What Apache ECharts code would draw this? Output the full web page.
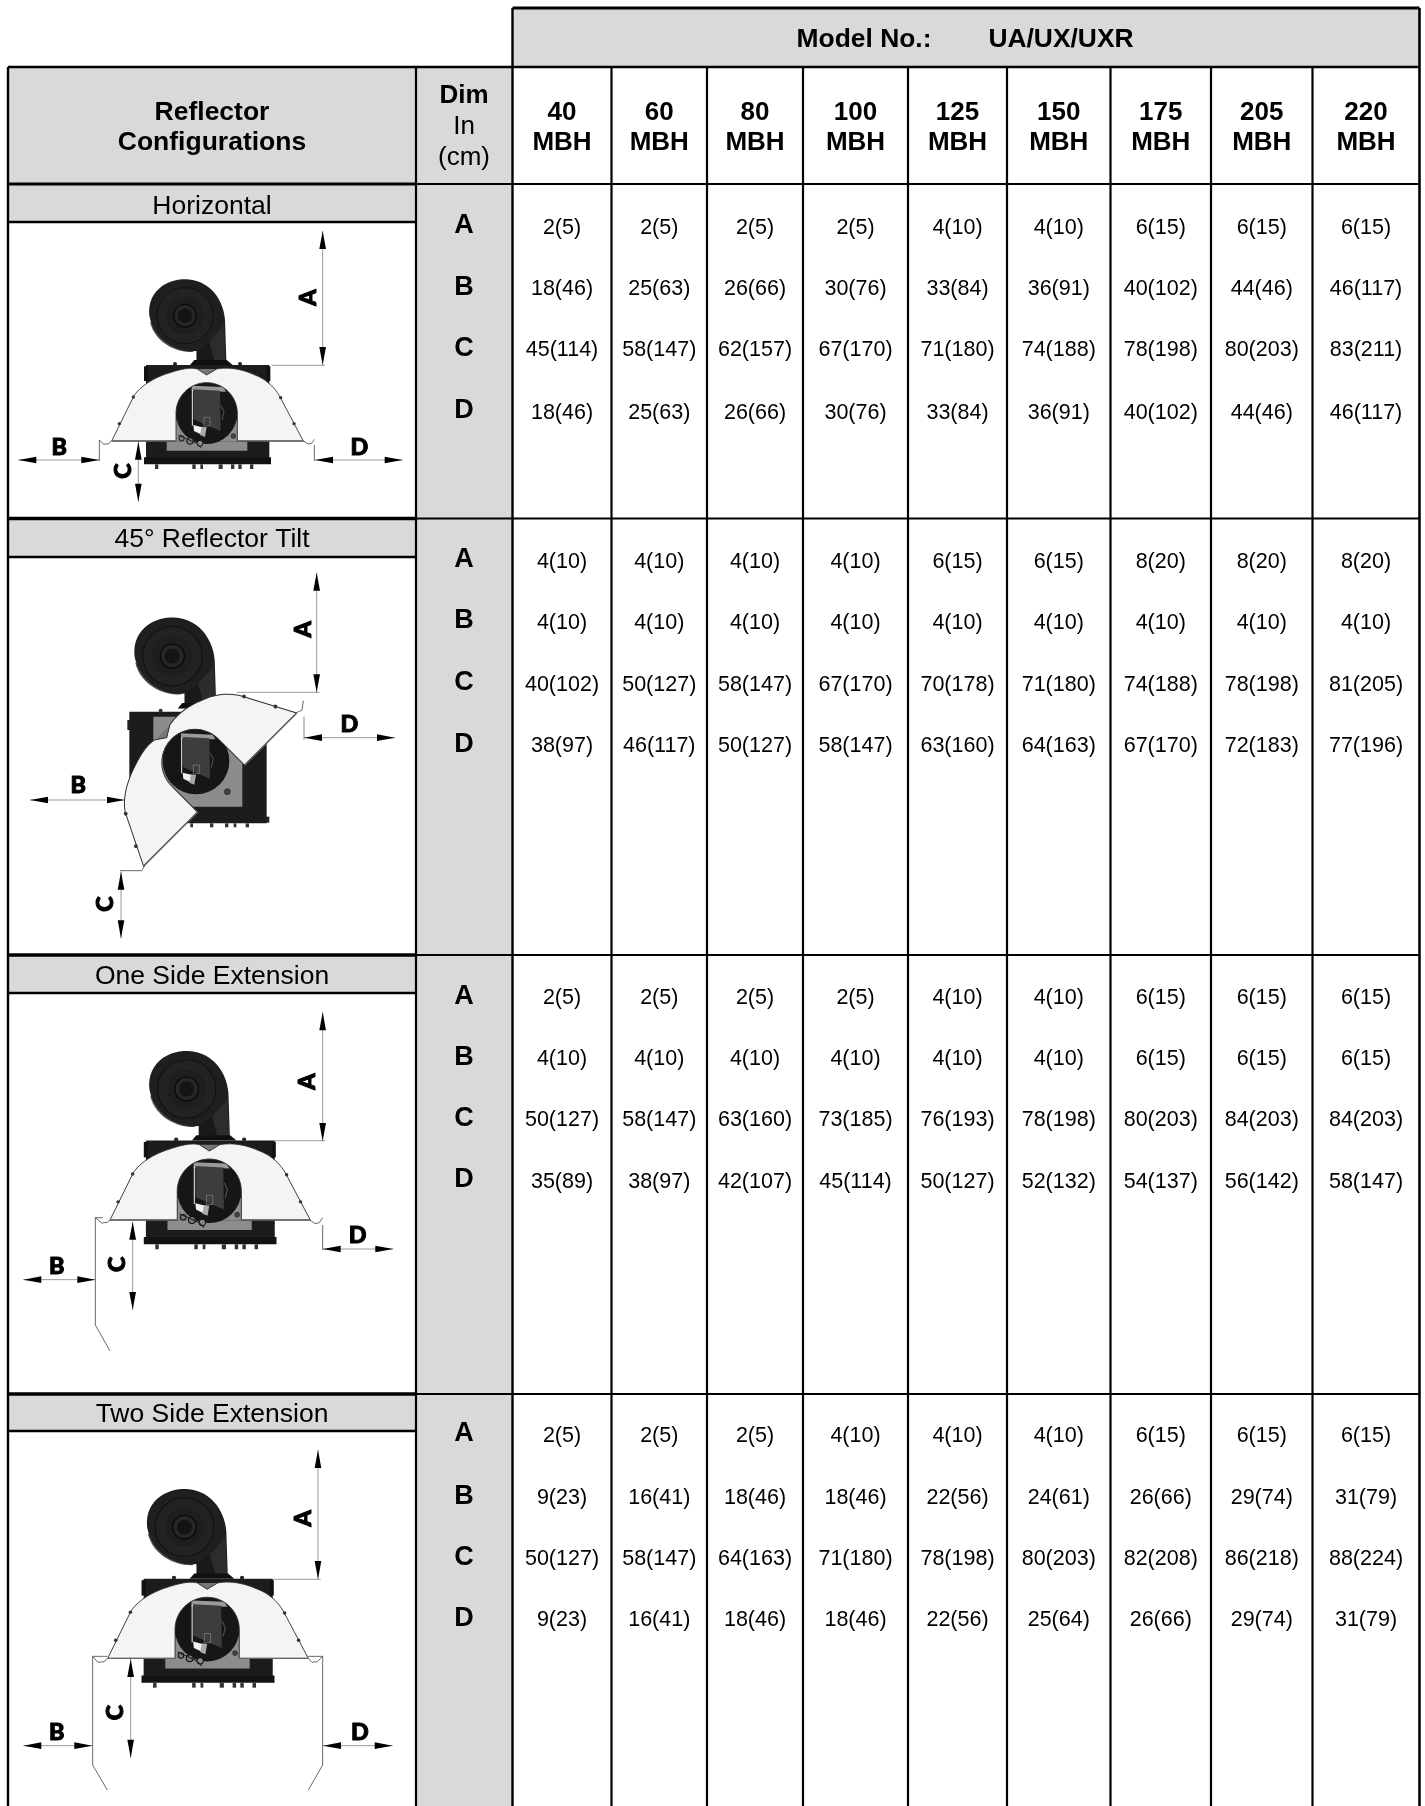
<!DOCTYPE html>
<html><head><meta charset="utf-8">
<style>html,body{margin:0;padding:0;background:#fff;overflow:hidden}#c{width:1425px;height:1806px}</style>
<script src="https://cdn.jsdelivr.net/npm/echarts@6/dist/echarts.min.js"></script>
</head><body><div id="c"></div>
<script>
// ---- content ----
const modelLabel = 'Model No.:';
const modelName = 'UA/UX/UXR';
const capacities = ['40','60','80','100','125','150','175','205','220'];
const dimLetters = ['A','B','C','D'];
const configurations = ['Horizontal','45° Reflector Tilt','One Side Extension','Two Side Extension'];

const horizontalA = ['2(5)','2(5)','2(5)','2(5)','4(10)','4(10)','6(15)','6(15)','6(15)'];
const horizontalB = ['18(46)','25(63)','26(66)','30(76)','33(84)','36(91)','40(102)','44(46)','46(117)'];
const horizontalC = ['45(114)','58(147)','62(157)','67(170)','71(180)','74(188)','78(198)','80(203)','83(211)'];
const horizontalD = ['18(46)','25(63)','26(66)','30(76)','33(84)','36(91)','40(102)','44(46)','46(117)'];

const tiltA = ['4(10)','4(10)','4(10)','4(10)','6(15)','6(15)','8(20)','8(20)','8(20)'];
const tiltB = ['4(10)','4(10)','4(10)','4(10)','4(10)','4(10)','4(10)','4(10)','4(10)'];
const tiltC = ['40(102)','50(127)','58(147)','67(170)','70(178)','71(180)','74(188)','78(198)','81(205)'];
const tiltD = ['38(97)','46(117)','50(127)','58(147)','63(160)','64(163)','67(170)','72(183)','77(196)'];

const oneSideA = ['2(5)','2(5)','2(5)','2(5)','4(10)','4(10)','6(15)','6(15)','6(15)'];
const oneSideB = ['4(10)','4(10)','4(10)','4(10)','4(10)','4(10)','6(15)','6(15)','6(15)'];
const oneSideC = ['50(127)','58(147)','63(160)','73(185)','76(193)','78(198)','80(203)','84(203)','84(203)'];
const oneSideD = ['35(89)','38(97)','42(107)','45(114)','50(127)','52(132)','54(137)','56(142)','58(147)'];

const twoSideA = ['2(5)','2(5)','2(5)','4(10)','4(10)','4(10)','6(15)','6(15)','6(15)'];
const twoSideB = ['9(23)','16(41)','18(46)','18(46)','22(56)','24(61)','26(66)','29(74)','31(79)'];
const twoSideC = ['50(127)','58(147)','64(163)','71(180)','78(198)','80(203)','82(208)','86(218)','88(224)'];
const twoSideD = ['9(23)','16(41)','18(46)','18(46)','22(56)','25(64)','26(66)','29(74)','31(79)'];

const sections = [
  [horizontalA,horizontalB,horizontalC,horizontalD],
  [tiltA,tiltB,tiltC,tiltD],
  [oneSideA,oneSideB,oneSideC,oneSideD],
  [twoSideA,twoSideB,twoSideC,twoSideD]
];

// ---- table layout (page pixels, used as axis values) ----
const W = 1425, H = 1806;
const colEdges = [512.5,611.5,707,803,908,1007,1110.5,1211,1312.5,1419.5];
const xLeft = 8, xDim = 416, xFirst = 512.5, xRight = 1419.5;
const yTop = 8, yHead = 67, yBody = 184;
const secTop = [184,518.5,955,1394];
const secBand = [222,557,993,1431];
const secTitleY = [207,540,977,1415];
const secRowY = [[228,289.5,350.5,413],[562,623,685,746.5],[998.5,1059.5,1120.5,1182],[1436,1498.5,1559.5,1620.5]];
const GREY = '#d9d9d9', INK = '#000';
const sans = '"Liberation Sans",Arial,sans-serif';

const fills = [
  [xFirst,yTop,xRight,yHead],
  [xLeft,yHead,xDim,yBody],
  [xDim,yHead,xFirst,H]
];
secTop.forEach((t,i)=>fills.push([xLeft,t,xDim,secBand[i]]));

const lines = [
  [xFirst,yTop,xRight,yTop,3],
  [xLeft,yHead,xRight,yHead,2.5],
  [xLeft,yBody,xDim,yBody,3.2],
  [xDim,yBody,xRight,yBody,2.2],
  [xLeft,yHead,xLeft,H,2.4],
  [xDim,yHead,xDim,H,2.2],
  [xFirst,yTop,xFirst,H,2.4],
  [xRight,yTop,xRight,H,2.6]
];
colEdges.slice(1,-1).forEach(x=>lines.push([x,yHead,x,H,2.2]));
secTop.slice(1).forEach(y=>{
  lines.push([xLeft,y,xDim,y,3.6]);
  lines.push([xDim,y,xRight,y,2.2]);
});
secBand.forEach(y=>lines.push([xLeft,y,xDim,y,2.4]));

const labels = [];
function put(text,x,y,size,bold){labels.push({text,x,y,size,bold});}
const cx = i => (colEdges[i]+colEdges[i+1])/2;
put(modelLabel,864,40,26.4,true);
put(modelName,1061,40,26.4,true);
put('Reflector',212,112.5,26.5,true);
put('Configurations',212,143,26.5,true);
put('Dim',464,96,26,true);
put('In',464,127,26,false);
put('(cm)',464,158,26,false);
capacities.forEach((c,i)=>{put(c,cx(i),112.5,26,true);put('MBH',cx(i),143,26,true);});
configurations.forEach((c,i)=>put(c,212,secTitleY[i],26.5,false));
sections.forEach((sec,s)=>sec.forEach((row,r)=>{
  put(dimLetters[r],464,secRowY[s][r]-2,27,true);
  row.forEach((v,i)=>put(v,cx(i),secRowY[s][r],21.5,false));
}));

// ---- illustration helpers (graphic component, unit = 1/3 page pixel) ----
const poly=(pts,fill,stroke,lw)=>({type:'polygon',shape:{points:pts},style:{fill:fill||'none',stroke:stroke||'none',lineWidth:lw||0},silent:true});
const pline=(pts,stroke,lw)=>({type:'polyline',shape:{points:pts},style:{fill:'none',stroke:stroke||'#333',lineWidth:lw||2.5},silent:true});
const rect=(x0,y0,x1,y1,fill)=>({type:'rect',shape:{x:x0,y:y0,width:x1-x0,height:y1-y0},style:{fill},silent:true});
const circ=(cx,cy,r,fill,stroke,lw)=>({type:'circle',shape:{cx,cy,r},style:{fill:fill||'none',stroke:stroke||'none',lineWidth:lw||0},silent:true});

function curve(p0,c1,c2,p1){ // flatten one cubic segment of an outline
  const out=[];
  for(let k=1;k<=14;k++){
    const t=k/14,u=1-t;
    out.push([u*u*u*p0[0]+3*u*u*t*c1[0]+3*u*t*t*c2[0]+t*t*t*p1[0],
              u*u*u*p0[1]+3*u*u*t*c1[1]+3*u*t*t*c2[1]+t*t*t*p1[1]]);
  }
  return out;
}
function arch(cx,cy,r){ // upper half circle, right to left
  const out=[];
  for(let k=0;k<=36;k++){const a=Math.PI*k/36;out.push([cx+r*Math.cos(a),cy-r*Math.sin(a)]);}
  return out;
}
function blower(){
  const body=[].concat(
    [[560,378]],
    curve([560,378],[498,386],[430,342],[418,272]),
    curve([418,272],[410,202],[468,160],[530,163]),
    curve([530,163],[596,165],[640,220],[645,285]),
    [[649,406],[560,406]]);
  const rim=[].concat([[548,381]],curve([548,381],[490,383],[432,346],[420,290]),[[560,360]]);
  return [
    poly(rim,'#4c4c56'),
    poly(body,'#1f1f1f'),
    circ(525,272,84,'#222','#111',3),
    circ(525,272,60,'#1e1e1e','#2a2a2a',2),
    circ(525,272,34,'#262626','#0a0a0a',4),
    circ(525,272,23,'#141414','#2e2e2e',2),
    poly([[598,352],[642,300],[647,406],[612,406]],'#2c2c2c'),
    poly([[560,378],[598,352],[612,406],[560,406]],'#191919'),
    poly([[540,420],[553,405],[650,405],[668,420]],'#0f0f0f')
  ];
}
function boxFlat(){
  const els=[
    rect(408,420,778,700,'#1c1c1c'),
    rect(402,424,414,468,'#111'),
    rect(770,424,781,468,'#111'),
    rect(402,697,783,718,'#121212'),
    rect(470,650,712,677,'#8c8c8c'),
    circ(495,417,6,'#222'),circ(690,417,6,'#222')
  ];
  [[440,5],[552,5],[575,4],[632,6],[668,5],[690,5],[725,5]].forEach(f=>els.push(rect(f[0]-f[1],718,f[0]+f[1],732,'#333')));
  return els;
}
function burner(cx,cy,r){ // opening contents, relative to the circle centre
  const dx=cx-590, dy=cy-565;
  const p=a=>a.map(q=>[q[0]+dx,q[1]+dy]);
  return [
    circ(cx,cy,r,'#161616'),
    poly(p([[545,482],[640,486],[648,500],[545,498]]),'#9a9a9a'),
    poly(p([[550,600],[582,608],[572,628],[552,618]]),'#f2f2f2'),
    poly(p([[550,493],[630,497],[632,618],[580,596],[550,582]]),'#3d3d3d'),
    pline(p([[547,495],[547,602]]),'#eee',3),
    pline(p([[632,540],[642,560],[636,585]]),'#555',3),
    poly(p([[575,605],[590,607],[585,636],[570,630]]),'#a8a8a8'),
    poly(p([[582,577],[600,577],[600,603],[582,603]]),'none','#888',2)
  ];
}
function valve(){
  return [
    circ(515,640,8,'#777','#111',3),circ(540,648,10,'#777','#111',3),
    circ(570,655,9,'#8a8a8a','#111',3),circ(670,633,7,'#444','#222',2),
    pline([[505,630],[560,655],[575,670]],'#222',3)
  ];
}
function reflector(ax,ay,ar){
  const outline=[].concat(
    [[ax-ar,648],[305,648],[372,512]],
    curve([372,512],[395,478],[440,455],[480,443]),
    curve([480,443],[510,433],[540,426],[562,432]),
    [[590,450],[620,432]],
    curve([620,432],[650,426],[690,430],[730,448]),
    curve([730,448],[770,462],[795,490],[808,512]),
    [[880,648],[ax+ar,648]],
    arch(ax,ay,ar));
  return [
    poly([[562,432],[620,432],[590,450]],'#777'),
    poly(outline,'#f4f4f4','#2e2e2e',2.6),
    circ(370,516,5,'#333'),circ(328,596,5,'#333'),circ(812,518,5,'#333'),circ(852,596,5,'#333'),
    pline([[305,648],[ax-ar,648]],'#666',4),pline([[ax+ar,648],[880,648]],'#666',4)
  ];
}
function dim(p0,p1){ // double arrow between two points
  const horiz=p0[1]===p1[1], L=54, w=10;
  const els=[pline([p0,p1],'#666',2)];
  if(horiz){
    els.push(poly([[p0[0],p0[1]],[p0[0]+L,p0[1]-w],[p0[0]+L,p0[1]+w]],'#000'));
    els.push(poly([[p1[0],p1[1]],[p1[0]-L,p1[1]-w],[p1[0]-L,p1[1]+w]],'#000'));
  }else{
    els.push(poly([[p0[0],p0[1]],[p0[0]-w,p0[1]+L],[p0[0]+w,p0[1]+L]],'#000'));
    els.push(poly([[p1[0],p1[1]],[p1[0]-w,p1[1]-L],[p1[0]+w,p1[1]-L]],'#000'));
  }
  return els;
}
function letter(t,x,y,rot){
  return {type:'text',x,y:rot?y:y+4,rotation:rot?Math.PI/2:0,silent:true,
    style:{text:t,align:'center',verticalAlign:'middle',fill:'#000',stroke:'#000',lineWidth:3,font:'900 70px Lato,sans-serif'}};
}
function dimsSet(a,leader,b,c,d,la,lb,lc,ld,extra){
  return [].concat(
    extra||[],
    pline(leader,'#888',2.5),
    dim(a[0],a[1]),dim(b[0],b[1]),dim(c[0],c[1]),dim(d[0],d[1]),
    letter('A',la[0],la[1],true),letter('B',lb[0],lb[1]),letter('C',lc[0],lc[1],true),letter('D',ld[0],ld[1])
  );
}
function flatHeater(s,tx,ty){
  return {type:'group',x:tx,y:ty,scaleX:s,scaleY:s,children:[].concat(
    blower(),boxFlat(),[rect(498,585,682,650,'#8c8c8c')],burner(590,565,92),reflector(590,565,92),valve())};
}
const lw=2.4;
const diagram1={type:'group',x:10,y:225,scaleX:1/3,scaleY:1/3,children:[flatHeater(1,0,0)].concat(
  dimsSet([[938,18],[938,420]],[[785,421],[945,421]],[[25,705],[268,705]],[[385,650],[385,830]],[[915,705],[1178,705]],
    [895,218],[148,663],[340,738],[1048,663],
    [pline([[268,708],[268,645],[280,657],[294,657],[305,648]],'#444',lw),pline([[880,648],[895,657],[905,655],[913,643]],'#444',lw),pline([[913,660],[913,708]],'#444',lw)])
)};
const diagram2={type:'group',x:10,y:560,scaleX:1/3,scaleY:1/3,children:[].concat(
  [{type:'group',x:-69.5,y:0,scaleX:1.06,scaleY:1.06,children:blower()}],
  [rect(358,455,770,790,'#1c1c1c'),rect(430,470,697,740,'#8c8c8c'),
   rect(352,480,360,510,'#222'),rect(768,770,778,788,'#222'),circ(452,452,6,'#333')],
  [[545,4],[605,5],[650,5],[675,4],[712,5]].map(f=>rect(f[0]-f[1],790,f[0]+f[1],802,'#333')),
  burner(558,603,100),
  [circ(652,695,9,'#444','#222',2)],
  [{type:'group',originX:592,originY:648,x:38,y:41,rotation:Math.PI/4,scaleX:1.13,scaleY:1.13,children:reflector(596,550,88)}],
  [pline([[860,458],[876,450],[880,422]],'#444',lw),pline([[882,470],[882,540]],'#777',2.5),
   pline([[405,915],[395,932],[330,932]],'#444',lw)],
  dimsSet([[920,38],[920,397]],[[680,397],[928,397]],[[60,720],[345,720]],[[333,935],[333,1135]],[[882,533],[1155,533]],
    [880,208],[205,672],[285,1032],[1018,488])
)};
const diagram3={type:'group',x:10,y:995,scaleX:1/3,scaleY:1/3,children:[flatHeater(1.045,-18.7,-2.2)].concat(
  dimsSet([[938,52],[938,438]],[[795,437],[945,437]],[[40,854],[256,854]],[[368,680],[368,945]],[[938,762],[1150,762]],
    [893,260],[140,810],[322,808],[1043,718],
    [pline([[278,668],[256,668],[256,990],[300,1068]],'#444',lw),pline([[256,668],[275,684],[292,682],[300,675]],'#444',lw),
     pline([[900,675],[915,686],[928,683],[938,668]],'#444',lw),pline([[938,690],[938,765]],'#444',lw)])
)};
const diagram4={type:'group',x:10,y:1435,scaleX:1/3,scaleY:1/3,children:[flatHeater(1.047,-26.3,-8.4)].concat(
  dimsSet([[924,45],[924,432]],[[790,433],[932,433]],[[40,932],[247,932]],[[362,672],[362,968]],[[939,932],[1148,932]],
    [880,250],[140,888],[315,833],[1050,888],
    [pline([[292,664],[248,664],[248,990],[292,1065]],'#444',lw),pline([[248,664],[264,682],[282,680],[293,670]],'#444',lw),
     pline([[895,664],[938,664],[938,990],[895,1065]],'#444',lw),pline([[938,664],[922,680],[906,682],[895,670]],'#444',lw)])
)};

// ---- chart ----
const chart = echarts.init(document.getElementById('c'),null,{renderer:'canvas',width:W,height:H});
chart.setOption({
  animation:false,
  backgroundColor:'#fff',
  grid:{left:0,right:0,top:0,bottom:0,containLabel:false},
  xAxis:{type:'value',min:0,max:W,show:false},
  yAxis:{type:'value',min:0,max:H,inverse:true,show:false},
  graphic:{elements:[{type:'group',z:3,children:[diagram1,diagram2,diagram3,diagram4]}]},
  series:[
    {type:'custom',silent:true,clip:false,z:1,coordinateSystem:'cartesian2d',data:fills,
     encode:{x:[0,2],y:[1,3]},
     renderItem(p,api){
       const a=api.coord([api.value(0),api.value(1)]),b=api.coord([api.value(2),api.value(3)]);
       return {type:'rect',shape:{x:a[0],y:a[1],width:b[0]-a[0],height:b[1]-a[1]},style:{fill:GREY}};
     }},
    {type:'custom',silent:true,clip:false,z:5,coordinateSystem:'cartesian2d',data:lines,
     encode:{x:[0,2],y:[1,3]},
     renderItem(p,api){
       const a=api.coord([api.value(0),api.value(1)]),b=api.coord([api.value(2),api.value(3)]);
       return {type:'line',shape:{x1:a[0],y1:a[1],x2:b[0],y2:b[1]},style:{stroke:INK,lineWidth:api.value(4)}};
     }},
    {type:'custom',silent:true,clip:false,z:6,coordinateSystem:'cartesian2d',
     data:labels.map(l=>[l.x,l.y]),encode:{x:0,y:1},
     renderItem(p,api){
       const l=labels[p.dataIndex],c=api.coord([api.value(0),api.value(1)]);
       return {type:'text',style:{text:l.text,x:c[0],y:c[1],align:'center',verticalAlign:'middle',fill:'#000',
         font:(l.bold?'bold ':'')+l.size+'px '+sans}};
     }}
  ]
});
</script></body></html>
